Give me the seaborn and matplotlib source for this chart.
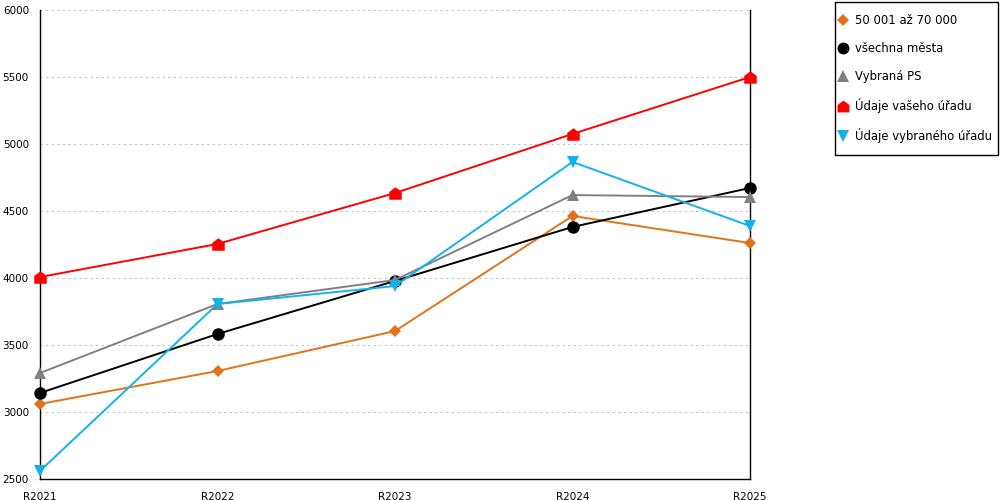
import numpy as np
import pandas as pd
import matplotlib
matplotlib.use("Agg")
import matplotlib.pyplot as plt
from matplotlib.path import Path
from matplotlib.lines import Line2D
from matplotlib.patches import Rectangle
import seaborn as sns

categories = ["R2021", "R2022", "R2023", "R2024", "R2025"]
series_names = ["50 001 až 70 000", "všechna města", "Vybraná PS",
                "Údaje vašeho úřadu", "Údaje vybraného úřadu"]
orange_vals = [3060, 3306, 3604, 4463, 4261]
black_vals = [3142, 3582, 3978, 4381, 4672]
gray_vals = [3291, 3806, 3985, 4619, 4604]
red_vals = [4007, 4254, 4634, 5075, 5500]
blue_vals = [2560, 3806, 3940, 4866, 4388]
y_ticks = [2500, 3000, 3500, 4000, 4500, 5000, 5500, 6000]

all_vals = [orange_vals, black_vals, gray_vals, red_vals, blue_vals]
colors = ["#E2731B", "#000000", "#808080", "#FF0000", "#12B3EC"]
house = Path([(-1, -1), (1, -1), (1, 0.25), (0, 1), (-1, 0.25), (-1, -1)],
             [Path.MOVETO, Path.LINETO, Path.LINETO, Path.LINETO, Path.LINETO, Path.CLOSEPOLY])
markers = ["D", "o", "^", house, "v"]
msizes = [6, 9, 8.5, 9, 9]

rows = []
for name, vals in zip(series_names, all_vals):
    for i, (c, v) in enumerate(zip(categories, vals)):
        rows.append({"cat": c, "x": i, "value": v, "series": name})
df = pd.DataFrame(rows)

sns.set_style("white")
plt.rcParams['font.family'] = ['DejaVu Sans']
plt.rcParams['text.color'] = 'black'
plt.rcParams['xtick.color'] = 'black'
plt.rcParams['ytick.color'] = 'black'

fig = plt.figure(figsize=(10, 5), dpi=100)
ax = fig.add_axes([0.04, 0.042, 0.71, 0.938])

for name, col, mk, ms in zip(series_names, colors, markers, msizes):
    sub = df[df["series"] == name]
    sns.lineplot(data=sub, x="x", y="value", ax=ax, color=col, marker=mk,
                 markersize=ms, markeredgewidth=0, linewidth=1.4, legend=False,
                 clip_on=False, zorder=3)

ax.set_xlim(0, 4)
ax.set_ylim(2500, 6000)
ax.set_yticks(y_ticks)
ax.set_yticklabels([str(t) for t in y_ticks], fontsize=7.5)
ax.set_xticks(range(len(categories)))
ax.set_xticklabels(categories, fontsize=7.5)
ax.set_xticks([0.5, 1.5, 2.5, 3.5], minor=True)
ax.tick_params(axis="x", which="major", length=0, pad=9)
ax.tick_params(axis="x", which="minor", length=5, width=0.8, color="black", direction="out")
ax.tick_params(axis="y", which="major", length=0, pad=8)
ax.set_xlabel("")
ax.set_ylabel("")
ax.yaxis.grid(True, linestyle=(0, (2, 3)), color="#c4c4c4", linewidth=0.8)
ax.xaxis.grid(False)
for s in ["left", "bottom", "right"]:
    ax.spines[s].set_visible(True)
    ax.spines[s].set_color("black")
    ax.spines[s].set_linewidth(1.0)
ax.spines["top"].set_visible(False)

fig.patches.append(Rectangle((835 / 1000, (500 - 155) / 500), 163 / 1000, 153 / 500,
                             transform=fig.transFigure, fill=False, edgecolor="black",
                             linewidth=1.0))

handles = [Line2D([], [], linestyle="none", color=c, marker=m, markersize=ms * 0.95,
                  markeredgewidth=0) for c, m, ms in zip(colors, markers, msizes)]
leg = fig.legend(handles, series_names, loc="upper left", bbox_to_anchor=(0.8385, 0.972),
                 fontsize=8.4, frameon=False, handlelength=0.8, handletextpad=0.6,
                 labelspacing=1.29, borderpad=0, borderaxespad=0)

fig.savefig("out.png", dpi=100)
